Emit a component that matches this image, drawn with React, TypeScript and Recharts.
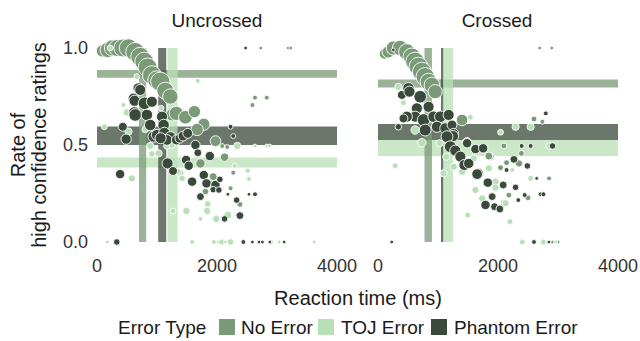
import React from 'react';
import { ScatterChart, Scatter, XAxis, YAxis, ZAxis, ReferenceArea } from 'recharts';

// ---- data: [reaction time ms, rate of high-confidence ratings, number of trials]
type Pt = [number, number, number];

const CATEGORIES = ['No Error', 'TOJ Error', 'Phantom Error'];
const COLORS = ['#7B9A78', '#B8E0B6', '#3A4A3A'];
const X_TICKS = [0, 2000, 4000];
const Y_TICKS = [0, 0.5, 1];
const PANELS = ['Uncrossed', 'Crossed'];

const UNCROSSED_NO_ERROR: Pt[] = [
  [90, 0.985, 16], [180, 0.99, 26], [260, 1.0, 30], [340, 1.0, 33], [430, 1.0, 36], [525, 1.0, 38],
  [636, 0.98, 40], [720, 0.955, 40], [787, 0.93, 40], [843, 0.9, 40], [915, 0.86, 40],
  [999, 0.835, 38], [1055, 0.826, 42], [1138, 0.78, 32], [1222, 0.75, 26], [1250, 0.655, 16],
  [1322, 0.663, 22], [1473, 0.643, 20], [1624, 0.672, 16], [1780, 0.607, 16], [1669, 0.58, 16],
  [1975, 0.52, 12], [2126, 0.437, 7], [1724, 0.405, 9], [2087, 0.495, 2], [2171, 0.49, 2],
  [2590, 0.706, 2], [2633, 0.744, 2], [2829, 0.744, 2], [1936, 0.337, 6], [2382, 0.194, 3],
  [2271, 0.357, 2], [2506, 0.367, 2], [2729, 1.0, 1], [3186, 1.0, 1], [3231, 1.0, 1],
  [1808, 0.26, 4], [2226, 0.277, 2], [1892, 0.302, 3],
];
const UNCROSSED_TOJ: Pt[] = [
  [218, 1.0, 3], [664, 0.852, 3], [1680, 0.83, 2], [441, 0.706, 2], [497, 0.668, 5], [122, 0.594, 3],
  [525, 0.569, 5], [804, 0.58, 4], [1066, 0.69, 3], [887, 0.495, 5], [915, 0.454, 4], [1027, 0.457, 5],
  [1166, 0.495, 4], [1250, 0.497, 3], [2338, 0.495, 5], [2633, 0.495, 1], [2829, 0.495, 1],
  [2880, 0.495, 1], [580, 0.328, 5], [1389, 0.354, 5], [1418, 0.328, 4], [1351, 0.362, 4],
  [1267, 0.16, 3], [1490, 0.16, 5], [1847, 0.196, 4], [1836, 0.16, 5], [1987, 0.119, 5],
  [2182, 0.139, 6], [1724, 0.119, 2], [2293, 0.393, 2], [2516, 0.367, 2], [2533, 0.325, 2],
  [172, 0, 1], [1585, 0, 2], [1947, 0, 2], [2020, 0, 1], [2076, 0, 3], [2140, 0, 1], [2226, 0, 4],
  [2439, 0, 2], [2900, 0, 2], [3035, 0, 1], [3621, 0, 1],
];
const UNCROSSED_PHANTOM: Pt[] = [
  [692, 0.792, 13], [720, 0.784, 13], [608, 0.74, 12], [625, 0.728, 13], [792, 0.715, 17],
  [915, 0.723, 13], [625, 0.667, 15], [636, 0.655, 17], [832, 0.655, 14], [1083, 0.646, 13],
  [887, 0.603, 14], [1110, 0.603, 14], [430, 0.594, 8], [486, 0.53, 11], [943, 0.543, 13],
  [999, 0.552, 13], [1122, 0.563, 13], [1222, 0.54, 13], [1166, 0.526, 12], [1322, 0.526, 10],
  [1378, 0.534, 9], [1434, 0.546, 10], [1512, 0.56, 10], [1060, 0.535, 13], [1640, 0.5, 9],
  [1680, 0.46, 6], [1880, 0.443, 9], [1177, 0.405, 13], [1267, 0.366, 8], [1485, 0.423, 9],
  [1529, 0.393, 9], [1780, 0.345, 9], [1585, 0.311, 9], [1825, 0.302, 9], [1975, 0.294, 9],
  [2048, 0.323, 4], [1936, 0.27, 4], [2031, 0.268, 4], [1724, 0.234, 6], [2327, 0.216, 4],
  [2382, 0.136, 6], [2126, 0.119, 4], [2182, 0.246, 1], [2633, 0.246, 2], [2533, 0.246, 1],
  [2226, 0.594, 2], [2271, 0.546, 2], [385, 0.35, 9], [330, 0, 4], [2477, 1.0, 1],
  [2439, 0, 2], [2590, 0, 1], [2700, 0, 1], [2757, 0, 1], [2880, 0, 1], [3119, 0, 1],
];

const CROSSED_NO_ERROR: Pt[] = [
  [110, 0.97, 12], [170, 0.98, 16], [256, 1.0, 22], [368, 1.0, 26], [480, 0.98, 30], [564, 0.955, 34],
  [619, 0.93, 40], [675, 0.904, 40], [731, 0.878, 40], [787, 0.852, 38], [843, 0.826, 32],
  [899, 0.809, 27], [954, 0.775, 22], [1401, 0.629, 14], [1875, 0.44, 5], [1847, 0.443, 6],
  [2098, 0.495, 3], [2042, 0.383, 3], [2143, 0.409, 3], [2389, 0.457, 3], [2350, 0.405, 5],
  [2600, 0.634, 3], [2740, 0.62, 2], [2851, 0.328, 2], [2181, 0.242, 3], [2499, 0.228, 3],
  [2695, 1.0, 1], [2896, 1.0, 1], [2908, 0, 1], [3002, 0, 1],
];
const CROSSED_TOJ: Pt[] = [
  [340, 0.8, 5], [424, 0.718, 3], [285, 0.393, 3], [591, 0.68, 3], [619, 0.577, 7], [731, 0.512, 7],
  [1027, 0.509, 5], [1194, 0.594, 3], [1540, 0.643, 3], [1138, 0.44, 5], [1261, 0.388, 5],
  [1094, 0.354, 5], [1401, 0.362, 5], [1596, 0.431, 5], [1484, 0.517, 7], [1624, 0.268, 5],
  [1495, 0.139, 3], [1736, 0.225, 5], [1959, 0.311, 5], [2098, 0.203, 5], [2198, 0.105, 3],
  [2042, 0.566, 3], [2293, 0.594, 5], [2544, 0.594, 5], [2862, 0.495, 5], [2544, 0.328, 3],
  [1847, 0.38, 5], [2238, 0.371, 2], [1959, 0.28, 5], [2126, 0.2, 5], [2405, 0, 3], [2757, 0, 3],
  [2824, 0, 1], [2963, 0, 1],
];
const CROSSED_PHANTOM: Pt[] = [
  [508, 0.792, 14], [397, 0.758, 8], [524, 0.775, 13], [703, 0.749, 17], [843, 0.697, 13],
  [648, 0.689, 13], [619, 0.646, 13], [480, 0.646, 13], [759, 0.629, 17], [926, 0.646, 14],
  [1038, 0.646, 14], [1177, 0.655, 13], [424, 0.637, 8], [787, 0.577, 15], [982, 0.594, 13],
  [1122, 0.586, 13], [1234, 0.603, 10], [340, 0.594, 4], [1261, 0.56, 10], [1250, 0.546, 13],
  [1150, 0.543, 15], [1205, 0.491, 15], [1485, 0.509, 9], [1289, 0.471, 13], [1373, 0.44, 13],
  [1440, 0.397, 13], [1512, 0.405, 11], [1680, 0.354, 9], [1624, 0.479, 9], [1752, 0.483, 9],
  [1652, 0.35, 12], [1830, 0.306, 9], [1791, 0.191, 9], [1903, 0.234, 6], [1942, 0.182, 6],
  [2031, 0.17, 6], [2087, 0.294, 6], [2143, 0.371, 2], [2265, 0.426, 6], [2489, 0.392, 4],
  [2293, 0.282, 4], [2338, 0.216, 2], [2444, 0.242, 2], [2712, 0.246, 2], [2757, 0.246, 2],
  [2645, 0.328, 1], [2394, 0.495, 2], [2544, 0.495, 2], [2908, 0.495, 4], [2796, 0.663, 2],
  [2600, 0, 2], [229, 0, 1], [2850, 0, 1], [256, 0.99, 1],
];

// mean ± interval bands: [category index, low, high]
const UNCROSSED_RATE_BANDS: Pt[] = [[0, 0.847, 0.887], [2, 0.5, 0.595], [1, 0.384, 0.435]];
const UNCROSSED_RT_BANDS: Pt[] = [[0, 700, 820], [2, 1020, 1154], [1, 1175, 1343]];
const CROSSED_RATE_BANDS: Pt[] = [[0, 0.797, 0.838], [2, 0.526, 0.608], [1, 0.443, 0.526]];
const CROSSED_RT_BANDS: Pt[] = [[0, 775, 899], [2, 1050, 1093], [1, 1083, 1250]];

const FONT = '"Liberation Sans", Arial, Helvetica, sans-serif';
const toObj = (a: Pt[]) => a.map(([rt, rate, n]) => ({ rt, rate, n }));

// bubble radius grows with the square root of the trial count (area ∝ n)
const radiusOf = (n: number) => 0.45 + 1.42 * Math.sqrt(n);

const Bubble = (props: any) => {
  const { cx, cy, fill, payload } = props;
  if (cx == null || cy == null) return null;
  return <circle cx={cx} cy={cy} r={radiusOf(payload.n)} fill={fill} stroke="#ffffff" strokeWidth={0.9} />;
};

type PanelProps = {
  series: Pt[][];
  rateBands: Pt[];
  rtBands: Pt[];
  showY: boolean;
  left: number;
  width: number;
  margin: { top: number; right: number; bottom: number; left: number };
};

function Panel({ series, rateBands, rtBands, showY, left, width, margin }: PanelProps) {
  return (
    <div style={{ position: 'absolute', left, top: 0 }}>
      <ScatterChart width={width} height={300} margin={margin}>
        <XAxis
          dataKey="rt"
          type="number"
          domain={[0, 4000]}
          ticks={X_TICKS}
          interval={0}
          axisLine={false}
          tickLine={false}
          tickSize={0}
          tickMargin={17}
          height={40}
          tick={{ fill: '#333', fontSize: 18, fontFamily: FONT }}
        />
        <YAxis
          dataKey="rate"
          type="number"
          domain={[0, 1]}
          ticks={Y_TICKS}
          interval={0}
          hide={!showY}
          width={90}
          axisLine={false}
          tickLine={false}
          tickSize={0}
          tickMargin={9}
          tickFormatter={(v: number) => v.toFixed(1)}
          tick={{ fill: '#333', fontSize: 18, fontFamily: FONT }}
        />
        <ZAxis dataKey="n" type="number" domain={[0, 40]} range={[2, 280]} />
        {rateBands.map(([c, lo, hi], i) => (
          <ReferenceArea key={'h' + i} y1={lo} y2={hi} fill={COLORS[c]} fillOpacity={0.75} stroke="none" />
        ))}
        {rtBands.map(([c, lo, hi], i) => (
          <ReferenceArea key={'v' + i} x1={lo} x2={hi} fill={COLORS[c]} fillOpacity={0.75} stroke="none" />
        ))}
        {series.map((s, i) => (
          <Scatter
            key={CATEGORIES[i]}
            name={CATEGORIES[i]}
            data={toObj(s)}
            fill={COLORS[i]}
            shape={Bubble}
            isAnimationActive={false}
          />
        ))}
      </ScatterChart>
    </div>
  );
}

export default function App() {
  const legendKeys = [219, 318, 431];
  const legendText = [241, 341, 454];
  return (
    <div style={{ position: 'absolute', left: 0, top: 0, width: 640, height: 341, background: '#fff', fontFamily: FONT }}>
      <Panel
        series={[UNCROSSED_NO_ERROR, UNCROSSED_TOJ, UNCROSSED_PHANTOM]}
        rateBands={UNCROSSED_RATE_BANDS}
        rtBands={UNCROSSED_RT_BANDS}
        showY
        left={0}
        width={360}
        margin={{ top: 48, right: 23, bottom: 18, left: 7 }}
      />
      <Panel
        series={[CROSSED_NO_ERROR, CROSSED_TOJ, CROSSED_PHANTOM]}
        rateBands={CROSSED_RATE_BANDS}
        rtBands={CROSSED_RT_BANDS}
        showY={false}
        left={373}
        width={267}
        margin={{ top: 48, right: 22, bottom: 18, left: 5 }}
      />
      <svg width={640} height={341} style={{ position: 'absolute', left: 0, top: 0, pointerEvents: 'none' }} fontFamily={FONT}>
        <text x={217} y={27} textAnchor="middle" fontSize={19} fill="#1a1a1a">{PANELS[0]}</text>
        <text x={497} y={27} textAnchor="middle" fontSize={19} fill="#1a1a1a">{PANELS[1]}</text>
        <text x={358} y={305} textAnchor="middle" fontSize={20} fill="#1a1a1a">Reaction time (ms)</text>
        <text transform="translate(25,145) rotate(-90)" textAnchor="middle" fontSize={20} fill="#1a1a1a">Rate of</text>
        <text transform="translate(46,145) rotate(-90)" textAnchor="middle" fontSize={20} fill="#1a1a1a">high confidence ratings</text>
        <text x={118} y={334} fontSize={19} fill="#1a1a1a">Error Type</text>
        {CATEGORIES.map((c, i) => (
          <g key={c}>
            <rect x={legendKeys[i]} y={319} width={16} height={16} fill={COLORS[i]} />
            <text x={legendText[i]} y={334} fontSize={19} fill="#1a1a1a">{c}</text>
          </g>
        ))}
      </svg>
    </div>
  );
}
